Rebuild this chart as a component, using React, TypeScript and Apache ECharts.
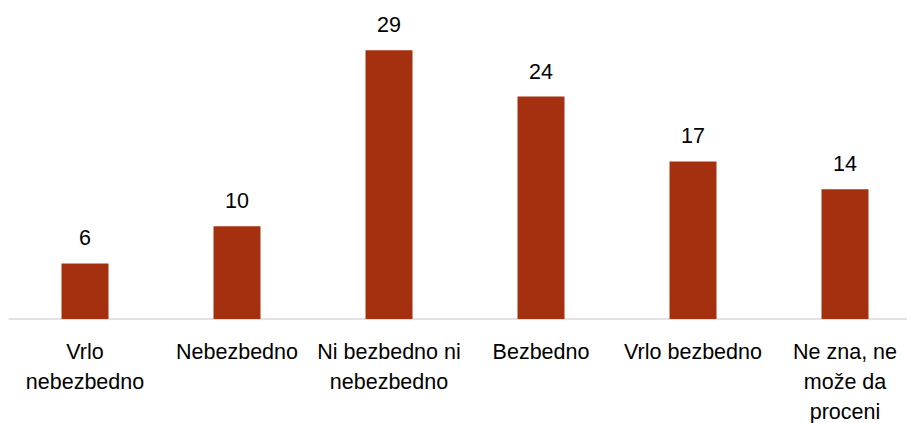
import React, { useEffect, useRef } from "react";
import * as echarts from "echarts";

const categories = [
  "Vrlo\nnebezbedno",
  "Nebezbedno",
  "Ni bezbedno ni\nnebezbedno",
  "Bezbedno",
  "Vrlo bezbedno",
  "Ne zna, ne\nmože da\nproceni",
];
const values = [6, 10, 29, 24, 17, 14];

const FONT = "'Liberation Sans', Arial, sans-serif";

export default function App() {
  const ref = useRef<HTMLDivElement>(null);
  useEffect(() => {
    if (!ref.current) return;
    const chart = echarts.init(ref.current, null, { renderer: "svg" });
    chart.setOption({
      animation: false,
      grid: {
        left: 9,
        top: 41,
        width: 912,
        height: 278,
        containLabel: false,
        outerBoundsMode: "none",
      },
      xAxis: {
        type: "category",
        data: categories,
        axisLine: { show: true, lineStyle: { color: "#d9d9d9", width: 1.5 } },
        axisTick: { show: false },
        axisLabel: {
          interval: 0,
          color: "#000",
          fontFamily: FONT,
          fontSize: 21.5,
          lineHeight: 30,
          margin: 18,
        },
      },
      yAxis: {
        type: "value",
        min: 0,
        max: 30,
        show: false,
        splitLine: { show: false },
      },
      series: [
        {
          type: "bar",
          data: values,
          barWidth: 47,
          itemStyle: { color: "#A5300F" },
          label: {
            show: true,
            position: "top",
            distance: 14,
            color: "#000",
            fontFamily: FONT,
            fontSize: 21.5,
          },
        },
      ],
    });
    return () => chart.dispose();
  }, []);
  return (
    <div style={{ position: "absolute", left: 0, top: 0, width: 907, height: 423, overflow: "hidden", background: "#fff" }}>
      <div ref={ref} style={{ width: 930, height: 423 }} />
    </div>
  );
}
